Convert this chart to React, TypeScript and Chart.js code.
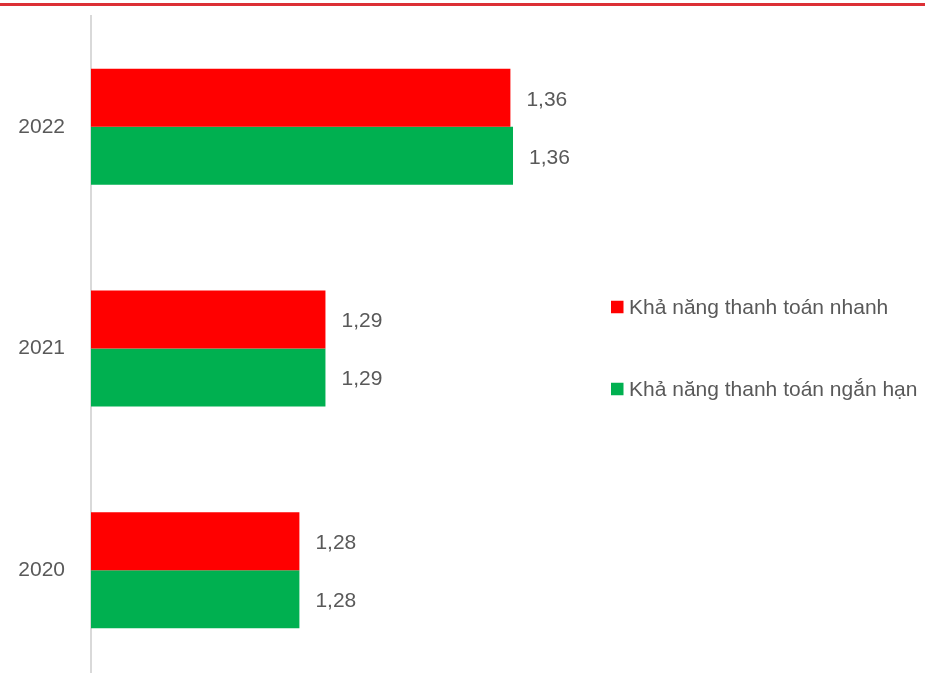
import React, { useEffect, useRef } from "react";
import { Chart, registerables } from "chart.js";

Chart.register(...registerables);

// ---- data ----
const years = ["2022", "2021", "2020"];
const quickRatio = [1.361, 1.29, 1.28];
const currentRatio = [1.362, 1.29, 1.28];
const seriesNames = ["Khả năng thanh toán nhanh", "Khả năng thanh toán ngắn hạn"];
const seriesColors = ["#FF0000", "#00B050"];
const xMin = 1.2;
const xMax = 1.4;

const FONT = "'Liberation Sans', Arial, sans-serif";
const TEXT = "#595959";
const FONT_SIZE = 21;

const fmt = (v: number) => v.toFixed(2).replace(".", ",");

const topLinePlugin = {
  id: "topLine",
  beforeDraw(chart: any) {
    const ctx = chart.ctx;
    ctx.save();
    ctx.strokeStyle = "#DC3035";
    ctx.lineWidth = 3;
    ctx.beginPath();
    ctx.moveTo(0, 4.5);
    ctx.lineTo(chart.width, 4.5);
    ctx.stroke();
    ctx.restore();
  },
};

const valueLabelPlugin = {
  id: "valueLabels",
  afterDatasetsDraw(chart: any) {
    const ctx = chart.ctx;
    ctx.save();
    ctx.font = `${FONT_SIZE}px ${FONT}`;
    ctx.fillStyle = TEXT;
    ctx.textAlign = "left";
    ctx.textBaseline = "middle";
    chart.data.datasets.forEach((ds: any, di: number) => {
      const meta = chart.getDatasetMeta(di);
      meta.data.forEach((el: any, i: number) => {
        ctx.fillText(fmt(ds.data[i]), el.x + 16, el.y + 2);
      });
    });
    ctx.restore();
  },
};

const legendPlugin = {
  id: "customLegend",
  afterDraw(chart: any) {
    const ctx = chart.ctx;
    const x0 = 611;
    const ys = [307, 389];
    const box = 12.5;
    ctx.save();
    ctx.font = `${FONT_SIZE}px ${FONT}`;
    ctx.textAlign = "left";
    ctx.textBaseline = "middle";
    chart.data.datasets.forEach((ds: any, i: number) => {
      const y = ys[i];
      ctx.fillStyle = ds.backgroundColor;
      ctx.fillRect(x0, y - box / 2, box, box);
      ctx.fillStyle = TEXT;
      ctx.fillText(ds.label, x0 + 18, y + 1);
    });
    ctx.restore();
  },
};

export default function App() {
  const ref = useRef<HTMLCanvasElement | null>(null);

  useEffect(() => {
    if (!ref.current) return;
    const chart = new Chart(ref.current, {
      type: "bar",
      data: {
        labels: years,
        datasets: [
          {
            label: seriesNames[0],
            data: quickRatio,
            backgroundColor: seriesColors[0],
            borderWidth: 0,
            barPercentage: 1,
            categoryPercentage: 0.5234,
          },
          {
            label: seriesNames[1],
            data: currentRatio,
            backgroundColor: seriesColors[1],
            borderWidth: 0,
            barPercentage: 1,
            categoryPercentage: 0.5234,
          },
        ],
      },
      options: {
        indexAxis: "y",
        responsive: false,
        animation: false,
        events: [],
        layout: { padding: { top: 16, right: 313, left: 0, bottom: 0 } },
        plugins: {
          legend: { display: false },
          tooltip: { enabled: false },
        },
        scales: {
          x: {
            type: "linear",
            min: xMin,
            max: xMax,
            display: false,
          },
          y: {
            type: "category",
            grid: { display: false, drawTicks: false },
            border: { display: true, color: "#D9D9D9", width: 2 },
            ticks: {
              color: TEXT,
              font: { family: FONT, size: FONT_SIZE },
              padding: 26,
            },
            afterFit(scale: any) {
              scale.width = 91;
              scale.paddingTop = 0;
              scale.paddingBottom = 0;
            },
          },
        },
      },
      plugins: [topLinePlugin, valueLabelPlugin, legendPlugin],
    });
    return () => chart.destroy();
  }, []);

  return (
    <div
      style={{
        position: "fixed",
        left: 0,
        top: 0,
        width: 925,
        height: 673,
        overflow: "hidden",
        background: "#ffffff",
      }}
    >
      <canvas ref={ref} width={925} height={681} style={{ display: "block" }} />
    </div>
  );
}
